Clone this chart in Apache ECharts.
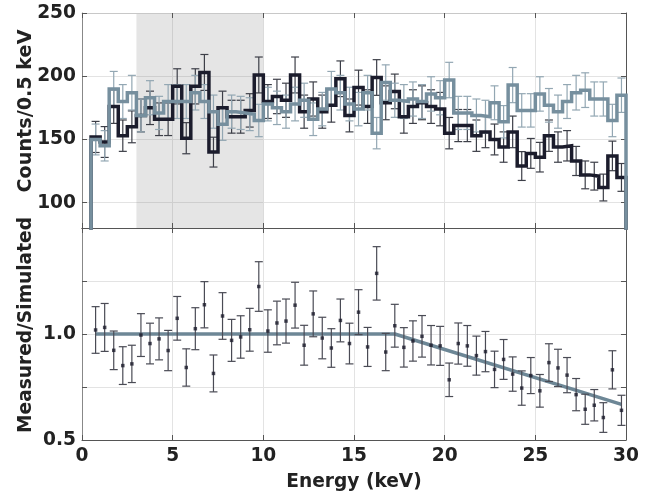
<!DOCTYPE html>
<html><head><meta charset="utf-8">
<script src="https://cdn.jsdelivr.net/npm/echarts@6/dist/echarts.min.js"></script>
<style>html,body{margin:0;padding:0;background:#fff}#c{width:656px;height:497px}</style>
</head><body><div id="c"></div>
<script>
// ---- data ----
const binLow = [0.5,1.0,1.5,2.0,2.5,3.0,3.5,4.0,4.5,5.0,5.5,6.0,6.5,7.0,7.5,8.0,8.5,9.0,9.5,10.0,
  10.5,11.0,11.5,12.0,12.5,13.0,13.5,14.0,14.5,15.0,15.5,16.0,16.5,17.0,17.5,18.0,18.5,19.0,19.5,20.0,
  20.5,21.0,21.5,22.0,22.5,23.0,23.5,24.0,24.5,25.0,25.5,26.0,26.5,27.0,27.5,28.0,28.5,29.0,29.5];
const binWidth = 0.5;
const measured = [152,148,176,153,160,169,175,166,166,192, 151,192,203,140,175,168,168,173,201,180,
  184,181,201,172,182,172,177,198,169,191, 176,199,179,188,168,176,179,176,174,155,
  161,161,153,156,150,144,156,129,139,136, 153,144,145,133,122,121,112,137,120];
const measuredErr = [12.3,12.2,13.3,12.4,12.6,13.0,13.2,12.9,12.9,13.9, 12.3,13.9,14.2,11.8,13.2,13.0,13.0,13.2,14.2,13.4,
  13.6,13.5,14.2,13.1,13.5,13.1,13.3,14.1,13.0,13.8, 13.3,14.1,13.4,13.7,13.0,13.3,13.4,13.3,13.2,12.4,
  12.7,12.7,12.4,12.5,12.2,12.0,12.5,11.4,11.8,11.7, 12.4,12.0,12.0,11.5,11.0,11.0,10.6,11.7,11.0];
const simulated = [150,145,190,180,187,169,183,171,180,180, 180,187,180,172,162,172,171,170,165,178,
  175,172,178,181,166,174,190,187,178,174, 187,155,195,181,180,182,180,186,183,197,
  171,171,169,168,179,164,193,173,173,186, 177,172,180,187,189,182,182,165,185];
const simulatedErr = [12.2,12.0,13.8,13.4,13.7,13.0,13.5,13.1,13.4,13.4, 13.4,13.7,13.4,13.1,12.7,13.1,13.1,13.0,12.8,13.3,
  13.2,13.1,13.3,13.5,12.9,13.2,13.8,13.7,13.3,13.2, 13.7,12.4,14.0,13.5,13.4,13.5,13.4,13.6,13.5,14.0,
  13.1,13.1,13.0,13.0,13.4,12.8,13.9,13.2,13.2,13.6, 13.3,13.1,13.4,13.7,13.7,13.5,13.5,12.8,13.6];
const ratio = [1.019,1.031,0.923,0.851,0.859,0.995,0.955,0.977,0.922,1.074, 0.842,1.025,1.138,0.814,1.085,0.970,0.986,1.020,1.224,1.014,
  1.052,1.061,1.136,0.947,1.095,0.981,0.934,1.064,0.955,1.103, 0.939,1.286,0.915,1.039,0.937,0.967,0.989,0.947,0.944,0.784,
  0.955,0.944,0.898,0.917,0.833,0.880,0.811,0.745,0.804,0.732, 0.865,0.840,0.806,0.714,0.645,0.664,0.606,0.831,0.640];
const ratioErr = [0.110,0.113,0.091,0.089,0.088,0.101,0.096,0.099,0.095,0.103, 0.088,0.099,0.109,0.087,0.110,0.099,0.100,0.101,0.117,0.100,
  0.103,0.104,0.108,0.094,0.108,0.098,0.091,0.101,0.096,0.106, 0.092,0.126,0.088,0.101,0.093,0.095,0.098,0.093,0.092,0.079,
  0.097,0.096,0.092,0.095,0.086,0.094,0.081,0.081,0.085,0.077, 0.089,0.088,0.083,0.076,0.071,0.074,0.070,0.090,0.071];
const modelEnergy = [0.75, 17.25, 29.75];
const modelRatio = [1.0, 1.0, 0.668];
const shadeRange = [3, 10];
const countTicks = [100, 150, 200, 250];
const ratioLabels = [0.5, 1.0];
const xTitle = 'Energy (keV)';
const yTitleTop = 'Counts/0.5 keV';
const yTitleBottom = 'Measured/Simulated';

// ---- styles ----
const FONT = 'DejaVu Sans';
const FS = 18.6;
const C_DARK = '#1b1c2c', C_GRAY = '#768f9e';
const C_DARK_ERR = '#3d3f48', C_GRAY_ERR = '#93a7b3';
const C_MODEL = '#6d8796';
const GRID_C = '#e3e3e3';

const centers = binLow.map(b => b + binWidth / 2);
function stepData(vals) {
  const pts = [[binLow[0], 0]];
  vals.forEach((v, i) => { pts.push([binLow[i], v]); pts.push([binLow[i] + binWidth, v]); });
  pts.push([binLow[binLow.length - 1] + binWidth, 0]);
  return pts;
}
function errData(vals, errs) { return vals.map((v, i) => [centers[i], v - errs[i], v + errs[i]]); }
function errSeries(xi, yi, data, color, z) {
  return {
    type: 'custom', xAxisIndex: xi, yAxisIndex: yi, data: data, z: z, clip: true, silent: true,
    renderItem: function (params, api) {
      const x = api.value(0);
      const p1 = api.coord([x, api.value(2)]);
      const p2 = api.coord([x, api.value(1)]);
      const hw = 4;
      const st = { stroke: color, lineWidth: 1.2 };
      return { type: 'group', children: [
        { type: 'line', shape: { x1: p1[0], y1: p1[1], x2: p2[0], y2: p2[1] }, style: st },
        { type: 'line', shape: { x1: p1[0] - hw, y1: p1[1], x2: p1[0] + hw, y2: p1[1] }, style: st },
        { type: 'line', shape: { x1: p2[0] - hw, y1: p2[1], x2: p2[0] + hw, y2: p2[1] }, style: st }
      ]};
    }
  };
}

const tickStyle = { show: true, inside: true, length: 5, lineStyle: { color: '#555', width: 1 } };
const labelFont = { fontFamily: FONT, fontSize: FS, fontWeight: 'bold', color: '#222' };

function xAx(gi, pos, showLabel, lineColor, split) {
  return {
    type: 'value', gridIndex: gi, position: pos, min: 0, max: 30, interval: 5, z: 1,
    axisLine: { show: true, onZero: false, lineStyle: { color: lineColor, width: 1 } },
    axisTick: tickStyle,
    axisLabel: Object.assign({ show: showLabel, margin: 7, showMinLabel: true, showMaxLabel: true }, labelFont),
    splitLine: { show: split, lineStyle: { color: GRID_C, width: 1 } }
  };
}

const chart = echarts.init(document.getElementById('c'), null, { renderer: 'canvas' });
chart.setOption({
  animation: false,
  backgroundColor: '#fff',
  grid: [
    { left: 82, right: 30, top: 13, height: 215 },
    { left: 82, right: 30, top: 228, height: 212 }
  ],
  xAxis: [
    xAx(0, 'bottom', false, '#555', true),
    xAx(0, 'top', false, '#c8c8c8', false),
    xAx(1, 'bottom', true, '#555', true),
    xAx(1, 'top', false, '#555', false)
  ],
  yAxis: [
    { type: 'value', gridIndex: 0, position: 'left', min: 80, max: 250, z: 1,
      axisLine: { show: true, onZero: false, lineStyle: { color: '#888' } },
      axisTick: Object.assign({ customValues: countTicks }, tickStyle),
      axisLabel: Object.assign({ customValues: countTicks, margin: 6 }, labelFont),
      splitLine: { show: true, lineStyle: { color: GRID_C } } },
    { type: 'value', gridIndex: 0, position: 'right', min: 80, max: 250, z: 1,
      axisLine: { show: true, onZero: false, lineStyle: { color: '#555' } },
      axisTick: Object.assign({ customValues: countTicks }, tickStyle),
      axisLabel: { show: false, customValues: countTicks },
      splitLine: { show: false } },
    { type: 'value', gridIndex: 1, position: 'left', min: 0.5, max: 1.5, interval: 0.25, z: 1,
      axisLine: { show: true, onZero: false, lineStyle: { color: '#888' } },
      axisTick: tickStyle,
      axisLabel: Object.assign({ margin: 6, formatter: v => ratioLabels.some(r => Math.abs(r - v) < 1e-6) ? v.toFixed(1) : '' }, labelFont),
      splitLine: { show: true, lineStyle: { color: GRID_C } } },
    { type: 'value', gridIndex: 1, position: 'right', min: 0.5, max: 1.5, interval: 0.25, z: 1,
      axisLine: { show: true, onZero: false, lineStyle: { color: '#555' } },
      axisTick: tickStyle, axisLabel: { show: false }, splitLine: { show: false } }
  ],
  graphic: [
    { type: 'text', x: 26, y: 111, rotation: Math.PI / 2,
      style: { text: yTitleTop, fontFamily: FONT, fontSize: FS + 0.6, fontWeight: 'bold', fill: '#222', align: 'center', verticalAlign: 'middle' } },
    { type: 'text', x: 26, y: 325, rotation: Math.PI / 2,
      style: { text: yTitleBottom, fontFamily: FONT, fontSize: FS, fontWeight: 'bold', fill: '#222', align: 'center', verticalAlign: 'middle' } },
    { type: 'text', x: 354, y: 482,
      style: { text: xTitle, fontFamily: FONT, fontSize: FS, fontWeight: 'bold', fill: '#222', align: 'center', verticalAlign: 'middle' } }
  ],
  series: [
    { type: 'line', xAxisIndex: 0, yAxisIndex: 0, data: [], z: 0, silent: true,
      markArea: { silent: true, itemStyle: { color: 'rgba(110,110,110,0.18)' }, data: [[{ xAxis: shadeRange[0] }, { xAxis: shadeRange[1] }]] } },
    errSeries(0, 0, errData(measured, measuredErr), C_DARK_ERR, 3),
    errSeries(0, 0, errData(simulated, simulatedErr), C_GRAY_ERR, 3),
    { type: 'line', xAxisIndex: 0, yAxisIndex: 0, data: stepData(measured), showSymbol: false, clip: true, z: 4,
      lineStyle: { color: C_DARK, width: 3.5, join: 'miter' } },
    { type: 'line', xAxisIndex: 0, yAxisIndex: 0, data: stepData(simulated), showSymbol: false, clip: true, z: 5,
      lineStyle: { color: C_GRAY, width: 3.5, join: 'miter' } },
    { type: 'line', xAxisIndex: 2, yAxisIndex: 2, data: modelEnergy.map((e, i) => [e, modelRatio[i]]), showSymbol: false, z: 3,
      lineStyle: { color: C_MODEL, width: 3.5 } },
    errSeries(2, 2, errData(ratio, ratioErr), '#4a4b55', 4),
    { type: 'scatter', xAxisIndex: 2, yAxisIndex: 2, data: ratio.map((r, i) => [centers[i], r]), symbol: 'rect', symbolSize: 3.5, z: 5,
      itemStyle: { color: C_DARK } }
  ]
});
</script>
</body></html>
